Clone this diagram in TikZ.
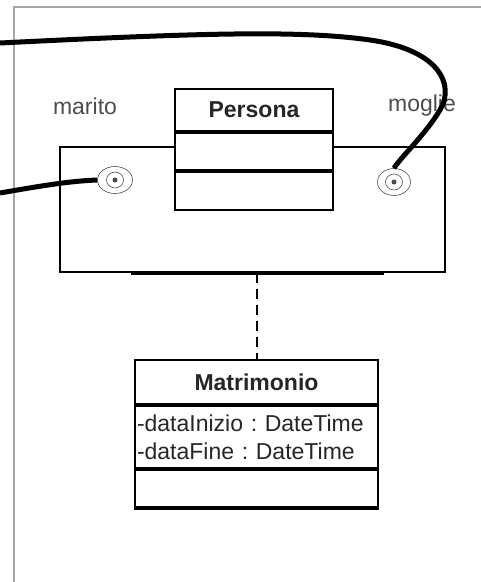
\documentclass[tikz,border=0pt]{standalone}
\usepackage{fontspec}
\setmainfont{Liberation Sans}
\usetikzlibrary{positioning,shapes.geometric}
\begin{document}
\begin{tikzpicture}[x=1pt,y=-1pt,
    box/.style={rectangle,draw,line width=2pt,fill=white,inner sep=0pt,minimum width=#1},
    box/.default=158pt,
    txt/.style={font=\fontsize{23}{28}\selectfont\frenchspacing,text=black!85},
    ring/.style={ellipse,draw=black!70,line width=0.6pt,inner sep=0pt},
    wire/.style={line width=5pt}]
    \useasboundingbox (0,0) rectangle (481,582);
    \draw[black!35,line width=1.2pt] (14,582) -- (14,7) -- (481,7);

    % association class frame
    \node[box=385pt, minimum height=125pt, fill=none] at (252.5,209.5) (assoc) {};
    \draw[line width=3.5pt] ([xshift=72pt]assoc.south west) -- ([xshift=-62pt]assoc.south east);

    \node[box, minimum height=42pt, txt, font=\fontsize{23}{28}\selectfont\bfseries] at (254,110) (persona) {Persona};
    \node[box, minimum height=37pt] (personaAttr) [below=0pt of persona] {};
    \node[box, minimum height=38pt] (personaOps) [below=0pt of personaAttr] {};

    \node[txt, text=black!70] at (85,106) (marito) {marito};
    \node[txt, text=black!70] at (422,106) (moglie) {moglie};

    \node[ring, minimum width=35pt, minimum height=27pt] at (115,180) (maritoEnd) {};
    \node[ring, minimum width=17pt, minimum height=16pt] at (115,180) (maritoIn) {};
    \fill[black!70] (maritoIn.center) circle (2.5pt);
    \node[ring, minimum width=33pt, minimum height=27pt] at (394,182) (moglieEnd) {};
    \node[ring, minimum width=17pt, minimum height=16pt] at (394,182) (moglieIn) {};
    \fill[black!70] (moglieIn.center) circle (2.5pt);

    \node[box=243pt, minimum height=44pt, txt, font=\fontsize{23}{28}\selectfont\bfseries] at (256.5,382) (matrimonio) {Matrimonio};
    \node[box=243pt, minimum height=62pt, txt, align=left, text width=239pt, inner xsep=2pt] (matrimonioAttr) [below=0pt of matrimonio] {-dataInizio : DateTime\\-dataFine : DateTime};
    \node[box=243pt, minimum height=37pt] (matrimonioOps) [below=0pt of matrimonioAttr] {};
    \draw[line width=3pt] (matrimonioOps.south west) -- (matrimonioOps.south east);

    \draw[line width=2pt, dash pattern=on 10pt off 6pt] (matrimonio.north |- assoc.south) -- (matrimonio.north);

    \coordinate (farLeftA) at (0,193);
    \coordinate (farLeftB) at (0,43);
    \draw[wire] (farLeftA) .. controls (40,186) and (70,181) .. (maritoEnd.west);
    \draw[wire] (farLeftB) .. controls (200,33) and (300,30) .. (370,40)
        .. controls (440,50) and (455,85) .. (440,110)
        .. controls (425,135) and (400,158) .. (moglieEnd.north);
\end{tikzpicture}
\end{document}
